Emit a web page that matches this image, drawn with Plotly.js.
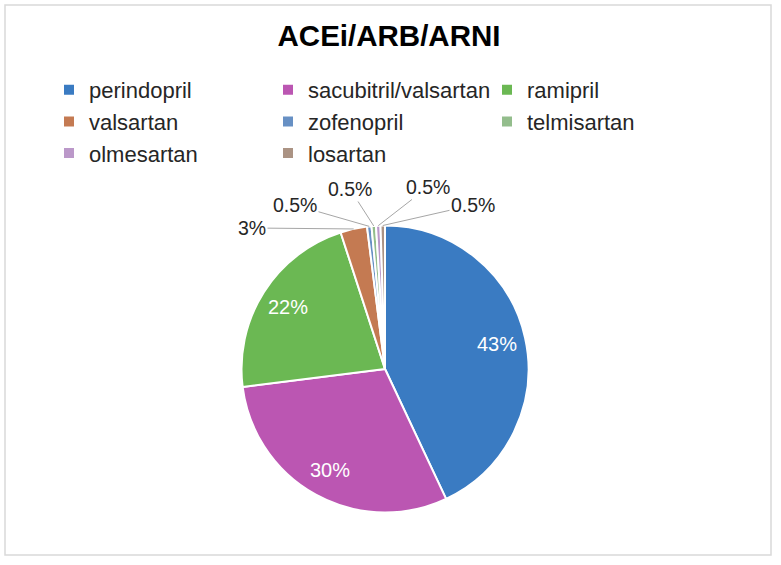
<!DOCTYPE html>
<html>
<head>
<meta charset="utf-8">
<script src="https://cdn.plot.ly/plotly-3.0.1.min.js"></script>
<style>
html,body{margin:0;padding:0;background:#fff;}
#chart{width:781px;height:565px;}
</style>
</head>
<body>
<div id="chart"></div>
<script>
// ---- data ----
const labels = ["perindopril","sacubitril/valsartan","ramipril","valsartan","zofenopril","telmisartan","olmesartan","losartan"];
const values = [43, 30, 22, 3, 0.5, 0.5, 0.5, 0.5];
const colors = ["#3a7bc2","#bb56b2","#6bb853","#c47a52","#6790c4","#93bd8c","#bb98c9","#ab9384"];
const labelInside = [true, true, true, false, false, false, false, false];

// ---- layout constants (pixels) ----
const W = 781, H = 565;
const CX = 385, CY = 369, R = 143.5;          // pie centre / radius
const INSIDE_FRAC = 0.8;                      // inside labels at 0.8 r along mid-angle
// outside label text centres (pixels), in slice order for the outside slices
const outsideLabelPos = [[252, 228], [295, 205], [350, 189], [428, 187], [473, 205]];

const px = x => x / W;
const py = y => 1 - y / H;

const total = values.reduce((a, b) => a + b, 0);
const annotations = [];
let cum = 0, k = 0;
values.forEach((v, i) => {
  const mid = (cum + v / 2) / total * 2 * Math.PI;   // clockwise from 12 o'clock
  cum += v;
  const txt = v + "%";
  if (labelInside[i]) {
    const x = CX + INSIDE_FRAC * R * Math.sin(mid);
    const y = CY - INSIDE_FRAC * R * Math.cos(mid);
    annotations.push({xref: "paper", yref: "paper", x: px(x), y: py(y), text: txt, showarrow: false,
      xanchor: "center", yanchor: "middle",
      font: {size: 20, color: "#ffffff", family: "Liberation Sans, Arial, sans-serif"}});
  } else {
    const tx = CX + R * Math.sin(mid);
    const ty = CY - R * Math.cos(mid);
    const pos = outsideLabelPos[k++];
    annotations.push({xref: "paper", yref: "paper", x: px(tx), y: py(ty), text: txt,
      showarrow: true, arrowhead: 0, arrowwidth: 1, arrowcolor: "#a6a6a6", standoff: 0,
      axref: "pixel", ayref: "pixel", ax: pos[0] - tx, ay: pos[1] - ty,
      xanchor: "center", yanchor: "middle",
      font: {size: 19.5, color: "#262626", family: "Liberation Sans, Arial, sans-serif"}});
  }
});

const trace = {
  type: "pie",
  labels: labels,
  values: values,
  sort: false,
  direction: "clockwise",
  rotation: 0,
  marker: {colors: colors, line: {color: "#ffffff", width: 2}},
  textinfo: "none",
  textposition: "none",
  hoverinfo: "label+percent",
  domain: {x: [px(CX - R), px(CX + R)], y: [py(CY + R), py(CY - R)]},
  automargin: false
};

const layout = {
  width: W, height: H,
  margin: {l: 0, r: 0, t: 0, b: 0},
  paper_bgcolor: "#ffffff",
  font: {family: "Liberation Sans, Arial, sans-serif", color: "#262626"},
  title: {text: "<b>ACEi/ARB/ARNI</b>", x: px(389), xanchor: "center", y: py(36), yanchor: "middle",
          font: {size: 29.5, color: "#000000", family: "Liberation Sans, Arial, sans-serif"}},
  showlegend: true,
  legend: {orientation: "h", x: px(49), xanchor: "left", y: py(69), yanchor: "top",
           bgcolor: "rgba(0,0,0,0)", entrywidth: 174, entrywidthmode: "pixels", traceorder: "normal",
           font: {size: 22, color: "#262626", family: "Liberation Sans, Arial, sans-serif"}},
  annotations: annotations,
  shapes: [{type: "rect", xref: "paper", yref: "paper",
            x0: px(5), x1: px(771), y0: py(555), y1: py(5),
            line: {color: "#d9d9d9", width: 1.5}, fillcolor: "rgba(0,0,0,0)"}]
};

Plotly.newPlot("chart", [trace], layout, {displayModeBar: false, staticPlot: true});
</script>
</body>
</html>
